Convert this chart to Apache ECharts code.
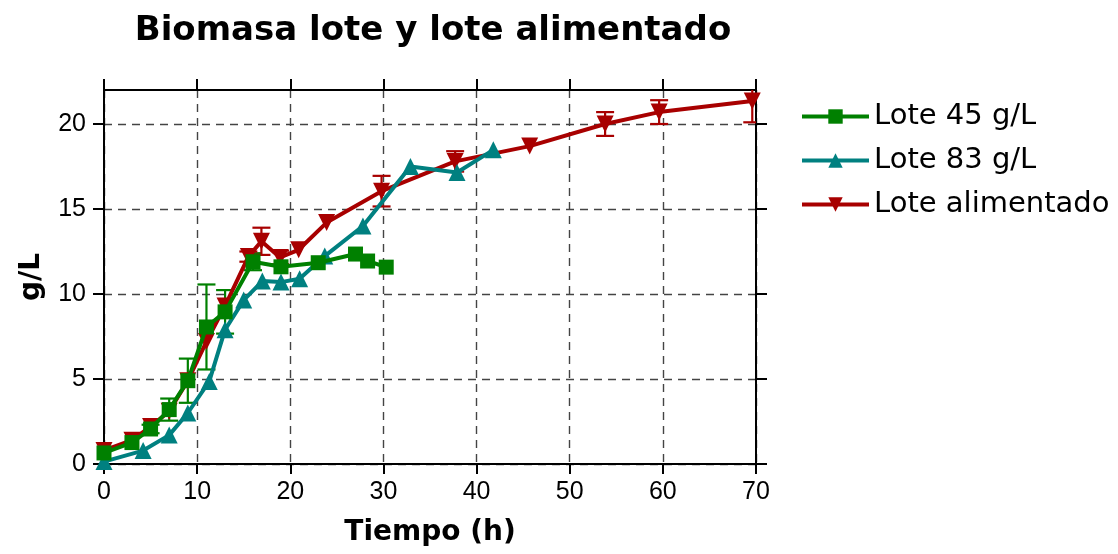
<!DOCTYPE html>
<html>
<head>
<meta charset="utf-8">
<script src="https://cdn.jsdelivr.net/npm/echarts@6/dist/echarts.min.js"></script>
<style>html,body{margin:0;padding:0;background:#fff;}#c{width:1118px;height:554px;}</style>
</head>
<body>
<div id="c"></div>
<script>
// ---- data ----
const titleText = 'Biomasa lote y lote alimentado';
const xName = 'Tiempo (h)';
const yName = 'g/L';
const seriesNames = ['Lote 45 g/L', 'Lote 83 g/L', 'Lote alimentado'];

const xGreen = [0, 3, 5, 7, 9, 11, 13, 16, 19, 23, 27, 28.3, 30.3];
const yGreen = [0.65, 1.26, 2.06, 3.2, 4.9, 8.06, 8.95, 11.9, 11.6, 11.84, 12.35, 11.94, 11.58];
const eGreen = [0, 0, 0.25, 0.65, 1.3, 2.5, 1.28, 0.5, 0, 0, 0, 0, 0];

const xTeal = [0, 4.2, 7, 9, 11.3, 13, 15, 17, 19, 21, 23.7, 27.8, 32.9, 37.9, 41.8];
const yTeal = [0.14, 0.79, 1.7, 3.0, 4.86, 7.9, 9.64, 10.76, 10.7, 10.9, 12.23, 14.0, 17.5, 17.15, 18.48];

const xRed = [0, 3, 5, 7, 9, 11, 13, 15.5, 16.9, 18.9, 20.9, 23.9, 29.8, 37.7, 45.7, 53.8, 59.6, 69.6];
const yRed = [0.8, 1.4, 2.2, 3.1, 4.9, 7.2, 9.3, 12.2, 13.1, 12.15, 12.6, 14.2, 16.05, 17.8, 18.7, 20.0, 20.7, 21.35];
const eRed = [0, 0, 0, 0, 0, 0, 0, 0.3, 0.8, 0.4, 0, 0, 0.9, 0.6, 0, 0.7, 0.7, 1.25];

const xTicks = [0, 10, 20, 30, 40, 50, 60, 70];
const yTicks = [0, 5, 10, 15, 20];

// ---- helpers ----
const colors = ['#008000', '#008080', '#a80000'];
function pts(xs, ys) { return xs.map((x, i) => [x, ys[i]]); }
function errData(xs, ys, es) {
  const out = [];
  xs.forEach((x, i) => { if (es[i] > 0) out.push([x, ys[i], es[i]]); });
  return out;
}
function errSeries(data, color) {
  return {
    type: 'custom',
    data: data,
    clip: true,
    z: 1,
    silent: true,
    encode: { x: 0, y: 1 },
    renderItem: function (params, api) {
      const x = api.value(0), y = api.value(1), e = api.value(2);
      const top = api.coord([x, y + e]);
      const bot = api.coord([x, y - e]);
      const hw = 9;
      const st = { stroke: color, lineWidth: 2.2 };
      return {
        type: 'group',
        children: [
          { type: 'line', shape: { x1: top[0], y1: top[1], x2: bot[0], y2: bot[1] }, style: st },
          { type: 'line', shape: { x1: top[0] - hw, y1: top[1], x2: top[0] + hw, y2: top[1] }, style: st },
          { type: 'line', shape: { x1: bot[0] - hw, y1: bot[1], x2: bot[0] + hw, y2: bot[1] }, style: st }
        ]
      };
    }
  };
}

const tickFont = { fontFamily: 'Liberation Sans', fontSize: 25, color: '#000' };
const split = { show: true, lineStyle: { color: '#444', type: [8, 6], width: 1.4 } };

const chart = echarts.init(document.getElementById('c'), null, { renderer: 'canvas' });
chart.setOption({
  animation: false,
  backgroundColor: '#fff',
  title: {
    text: titleText,
    left: 428,
    top: 9,
    textAlign: 'center',
    textStyle: { fontFamily: 'DejaVu Sans', fontWeight: 'bold', fontSize: 34, color: '#000' }
  },
  legend: {
    orient: 'vertical',
    left: 795,
    top: 97,
    itemWidth: 67,
    itemHeight: 18,
    itemGap: 15,
    data: seriesNames,
    lineStyle: { width: 4 },
    textStyle: { fontFamily: 'DejaVu Sans', fontSize: 29, color: '#000' }
  },
  grid: { left: 104, right: 362, top: 90, bottom: 90, containLabel: false },
  xAxis: [
    {
      type: 'value', min: 0, max: 70, interval: 10,
      name: xName, nameLocation: 'middle', nameGap: 55,
      nameTextStyle: { fontFamily: 'DejaVu Sans', fontWeight: 'bold', fontSize: 28, color: '#000' },
      axisLine: { show: true, onZero: false, lineStyle: { color: '#000', width: 2 } },
      axisTick: { show: true, length: 10, lineStyle: { color: '#000', width: 2 } },
      axisLabel: Object.assign({ margin: 16, customValues: xTicks }, tickFont),
      splitLine: split
    },
    {
      type: 'value', min: 0, max: 70, interval: 10, position: 'top',
      axisLine: { show: true, onZero: false, lineStyle: { color: '#000', width: 2 } },
      axisTick: { show: true, length: 11, lineStyle: { color: '#000', width: 2 } },
      axisLabel: { show: false },
      splitLine: { show: false }
    }
  ],
  yAxis: [
    {
      type: 'value', min: 0, max: 22,
      name: yName, nameLocation: 'middle', nameGap: 58, nameRotate: 90,
      nameTextStyle: { fontFamily: 'DejaVu Sans', fontWeight: 'bold', fontSize: 28, color: '#000' },
      axisLine: { show: true, onZero: false, lineStyle: { color: '#000', width: 2 } },
      axisTick: { show: true, length: 11, customValues: yTicks, lineStyle: { color: '#000', width: 2 } },
      axisLabel: Object.assign({ margin: 18, customValues: yTicks }, tickFont),
      splitLine: split
    },
    {
      type: 'value', min: 0, max: 22, position: 'right',
      axisLine: { show: true, onZero: false, lineStyle: { color: '#000', width: 2 } },
      axisTick: { show: true, length: 11, customValues: yTicks, lineStyle: { color: '#000', width: 2 } },
      axisLabel: { show: false },
      splitLine: { show: false }
    }
  ],
  series: [
    errSeries(errData(xGreen, yGreen, eGreen), colors[0]),
    errSeries(errData(xRed, yRed, eRed), colors[2]),
    {
      name: seriesNames[2], type: 'line', data: pts(xRed, yRed), z: 2,
      symbol: 'triangle', symbolRotate: 180, symbolSize: 17,
      lineStyle: { color: colors[2], width: 4 }, itemStyle: { color: colors[2] }
    },
    {
      name: seriesNames[1], type: 'line', data: pts(xTeal, yTeal), z: 3,
      symbol: 'triangle', symbolSize: 17,
      lineStyle: { color: colors[1], width: 4 }, itemStyle: { color: colors[1] }
    },
    {
      name: seriesNames[0], type: 'line', data: pts(xGreen, yGreen), z: 4,
      symbol: 'rect', symbolSize: 15,
      lineStyle: { color: colors[0], width: 4 }, itemStyle: { color: colors[0] }
    }
  ]
});
</script>
</body>
</html>
